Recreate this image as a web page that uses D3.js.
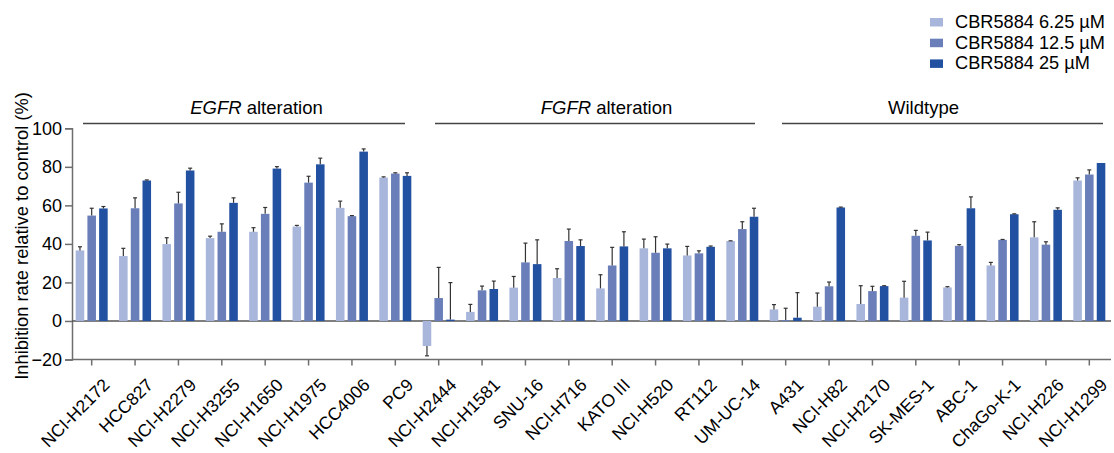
<!DOCTYPE html>
<html>
<head>
<meta charset="utf-8">
<script src="https://cdn.jsdelivr.net/npm/d3@7"></script>
<style>
  body { margin: 0; background: #fff; }
  svg { font-family: "Liberation Sans", Arial, sans-serif; }
</style>
</head>
<body>
<svg id="chart" width="1114" height="453"></svg>
<script>
// cell lines, in plot order
var cellLines = ["NCI-H2172", "HCC827", "NCI-H2279", "NCI-H3255", "NCI-H1650", "NCI-H1975", "HCC4006", "PC9",
    "NCI-H2444", "NCI-H1581", "SNU-16", "NCI-H716", "KATO III", "NCI-H520", "RT112", "UM-UC-14",
    "A431", "NCI-H82", "NCI-H2170", "SK-MES-1", "ABC-1", "ChaGo-K-1", "NCI-H226", "NCI-H1299"];
var groupNames = ["EGFR", "FGFR", "Wildtype"];
var seriesNames = ["CBR5884 6.25 µM", "CBR5884 12.5 µM", "CBR5884 25 µM"];
var yTicks = [-20, 0, 20, 40, 60, 80, 100];

// mean inhibition (%) per dose
var mean625 = [36.6, 33.7, 39.9, 43.0, 46.3, 49.0, 58.7, 74.4,
    -13.0, 4.7, 17.3, 22.3, 16.9, 37.7, 34.0, 41.5,
    6.0, 7.4, 8.8, 12.1, 17.4, 28.8, 43.4, 72.9];
var mean125 = [54.7, 58.5, 61.0, 46.3, 55.6, 71.8, 54.4, 76.5,
    11.9, 15.9, 30.4, 41.5, 28.8, 35.4, 35.1, 47.7,
    0.5, 18.0, 15.5, 44.2, 39.0, 42.1, 39.6, 76.0];
var mean25 = [58.4, 72.9, 78.1, 61.3, 79.1, 81.3, 87.9, 75.3,
    0.7, 16.6, 29.5, 38.9, 38.7, 37.7, 38.5, 54.1,
    1.7, 58.9, 18.1, 41.8, 58.5, 55.4, 57.7, 82.0];
// error bar sizes (SD)
var err625 = [1.9, 4.0, 3.3, 1.0, 2.1, 0.6, 3.5, 0.4,
    5.1, 3.9, 5.8, 4.8, 7.1, 4.8, 4.7, 0.1,
    2.5, 7.1, 9.5, 8.5, 0.4, 1.6, 8.1, 1.4];
var err125 = [3.8, 5.4, 5.8, 4.1, 3.3, 3.3, 0.3, 0.4,
    15.9, 2.2, 10.0, 6.2, 9.4, 8.3, 1.3, 3.8,
    6.1, 2.2, 2.5, 2.8, 0.6, 0.2, 1.5, 2.4];
var err25 = [1.0, 0.3, 1.2, 2.6, 1.0, 3.2, 1.4, 1.6,
    19.2, 4.1, 12.6, 3.2, 7.6, 2.2, 0.4, 4.4,
    13.0, 0.2, 0.2, 4.3, 5.9, 0.2, 1.0, 0];

var colors = ["#a9b6dc", "#6a7fb9", "#2351a2"];
var means = [mean625, mean125, mean25];
var errs = [err625, err125, err25];

var svg = d3.select("#chart");

var x = d3.scaleBand().domain(cellLines).range([70, 1111]);
var xSub = d3.scaleBand().domain(seriesNames).range([-16, 16]).paddingInner(0.27);
var y = d3.scaleLinear().domain([-20, 100]).range([359.5, 128.3]);

var axisColor = "#6e6e6e";

// y axis
var yAxis = svg.append("g")
    .attr("transform", "translate(72,0)")
    .call(d3.axisLeft(y).tickValues(yTicks).tickSize(7).tickPadding(3));
yAxis.select(".domain").attr("stroke", axisColor).attr("stroke-width", 1.5);
yAxis.selectAll(".tick line").attr("stroke", axisColor).attr("stroke-width", 1.5);
yAxis.selectAll(".tick text").attr("font-size", 18).attr("fill", "#000")
    .attr("font-family", "Liberation Sans, Arial, sans-serif");

// x axis at bottom
var xAxis = svg.append("g")
    .attr("transform", "translate(0," + y(-20) + ")")
    .call(d3.axisBottom(x).tickSize(6).tickSizeOuter(0).tickFormat(""));
xAxis.select(".domain").attr("stroke", axisColor).attr("stroke-width", 1.5)
    .attr("d", "M72,0H1111");
xAxis.selectAll(".tick line").attr("stroke", axisColor).attr("stroke-width", 1.5);

// rotated category labels
svg.append("g").selectAll("text")
    .data(cellLines)
    .enter().append("text")
    .attr("transform", function(d) { return "translate(" + (x(d) + x.bandwidth() / 2 + 19) + ",386) rotate(-45)"; })
    .attr("text-anchor", "end")
    .attr("font-size", 17.6)
    .text(function(d) { return d; });

// zero line
svg.append("line")
    .attr("x1", 72).attr("x2", 1111)
    .attr("y1", y(0)).attr("y2", y(0))
    .attr("stroke", "#555").attr("stroke-width", 1.4);

// bars
var rows = [];
cellLines.forEach(function(c, i) {
    seriesNames.forEach(function(s, k) {
        rows.push({ cell: c, series: s, k: k, v: means[k][i], e: errs[k][i] });
    });
});

var barG = svg.append("g");
barG.selectAll("rect")
    .data(rows)
    .enter().append("rect")
    .attr("x", function(d) { return x(d.cell) + x.bandwidth() / 2 + xSub(d.series); })
    .attr("width", xSub.bandwidth())
    .attr("y", function(d) { return Math.min(y(d.v), y(0)); })
    .attr("height", function(d) { return Math.abs(y(d.v) - y(0)); })
    .attr("fill", function(d) { return colors[d.k]; });

// error bars (one-sided, away from zero)
var errG = svg.append("g").attr("stroke", "#333").attr("stroke-width", 1.2);
rows.filter(function(d) { return d.e > 0; }).forEach(function(d) {
    var cx = x(d.cell) + x.bandwidth() / 2 + xSub(d.series) + xSub.bandwidth() / 2;
    var end = d.v >= 0 ? d.v + d.e : d.v - d.e;
    errG.append("line").attr("x1", cx).attr("x2", cx).attr("y1", y(d.v)).attr("y2", y(end));
    errG.append("line").attr("x1", cx - 2).attr("x2", cx + 2).attr("y1", y(end)).attr("y2", y(end));
});

// group headers
var groupStart = [0, 8, 16];
var headerShift = [13, 16, -14];
var lineInset = [[13, 12], [18, 9], [18, 8]];
groupNames.forEach(function(g, i) {
    var x0 = x(cellLines[groupStart[i]]);
    var x1 = x(cellLines[groupStart[i] + 7]) + x.step();
    svg.append("line")
        .attr("x1", x0 + lineInset[i][0]).attr("x2", x1 - lineInset[i][1])
        .attr("y1", 123.5).attr("y2", 123.5)
        .attr("stroke", "#444").attr("stroke-width", 1.3);
    var t = svg.append("text")
        .attr("x", (x0 + x1) / 2 + headerShift[i])
        .attr("y", 114)
        .attr("text-anchor", "middle")
        .attr("font-size", 18.5);
    if (g === "Wildtype") {
        t.text(g);
    } else {
        t.append("tspan").attr("font-style", "italic").text(g);
        t.append("tspan").text(" alteration");
    }
});

// y axis title
svg.append("text")
    .attr("transform", "translate(28,236) rotate(-90)")
    .attr("text-anchor", "middle")
    .attr("font-size", 18.3)
    .text("Inhibition rate relative to control (%)");

// legend
var legend = svg.append("g").attr("transform", "translate(930,18)");
seriesNames.forEach(function(s, k) {
    var row = legend.append("g").attr("transform", "translate(0," + (k * 20.7) + ")");
    row.append("rect").attr("width", 13).attr("height", 8.5).attr("fill", colors[k]);
    row.append("text").attr("x", 25).attr("y", 10).attr("font-size", 18.2).text(s);
});
</script>
</body>
</html>
